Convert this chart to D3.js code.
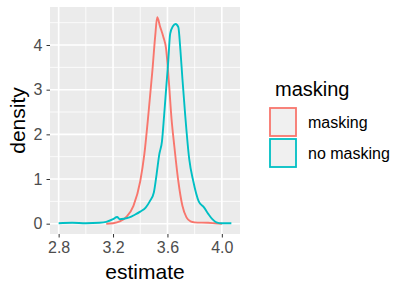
<!DOCTYPE html>
<html>
<head>
<meta charset="utf-8">
<script src="https://cdn.jsdelivr.net/npm/d3@7"></script>
<style>
  body { margin: 0; background: white; }
  svg text { font-family: "Liberation Sans", Arial, Helvetica, sans-serif; }
</style>
</head>
<body>
<div id="chart"></div>
<script>
// density estimates
const groups = ["masking", "no masking"];
const groupColors = ["#F8766D", "#00BFC4"];

const maskingX = [3.15, 3.20, 3.25, 3.30, 3.35, 3.40, 3.43, 3.46, 3.49, 3.51, 3.525, 3.545, 3.57, 3.59, 3.61, 3.63, 3.65, 3.68, 3.71, 3.74, 3.77, 3.80, 3.90, 3.95, 4.00];
const maskingY = [0.00, 0.01, 0.05, 0.16, 0.40, 0.95, 1.55, 2.45, 3.45, 4.20, 4.62, 4.42, 4.18, 3.92, 3.20, 2.35, 1.75, 0.95, 0.40, 0.14, 0.05, 0.03, 0.02, 0.01, 0.00];

const noMaskingX = [2.80, 2.90, 3.00, 3.10, 3.15, 3.20, 3.23, 3.25, 3.28, 3.32, 3.36, 3.40, 3.44, 3.47, 3.50, 3.52, 3.54, 3.56, 3.575, 3.59, 3.605, 3.62, 3.64, 3.66, 3.68, 3.695, 3.71, 3.73, 3.76, 3.79, 3.83, 3.87, 3.90, 3.93, 3.96, 4.00, 4.07];
const noMaskingY = [0.01, 0.02, 0.01, 0.02, 0.04, 0.10, 0.15, 0.10, 0.11, 0.14, 0.20, 0.27, 0.36, 0.50, 0.70, 1.10, 1.55, 1.85, 2.40, 3.00, 3.60, 4.25, 4.42, 4.47, 4.40, 3.90, 3.25, 2.45, 1.45, 0.95, 0.50, 0.36, 0.22, 0.10, 0.03, 0.01, 0.01];

const xMajor = [2.8, 3.2, 3.6, 4.0];
const xMinor = [3.0, 3.4, 3.8];
const yMajor = [0, 1, 2, 3, 4];
const yMinor = [0.5, 1.5, 2.5, 3.5, 4.5];

function renderDensity () {
    const wSvg = 400;
    const hSvg = 290;
    const panel = { left: 50, right: 240, top: 7, bottom: 234 };

    let series = [
        { name: groups[0], color: groupColors[0], points: maskingX.map((x, i) => ({ x: x, y: maskingY[i] })) },
        { name: groups[1], color: groupColors[1], points: noMaskingX.map((x, i) => ({ x: x, y: noMaskingY[i] })) }
    ];

    // ggplot style 5% expansion
    let allX = maskingX.concat(noMaskingX);
    let allY = maskingY.concat(noMaskingY);
    let xMin = d3.min(allX), xMax = d3.max(allX);
    let yMax = d3.max(allY);
    let xPad = (xMax - xMin) * 0.05;
    let yPad = yMax * 0.05;

    let xScale = d3.scaleLinear([xMin - xPad, xMax + xPad], [panel.left, panel.right]);
    let yScale = d3.scaleLinear([-yPad, yMax + yPad], [panel.bottom, panel.top]);

    let svg = d3.select("#chart")
        .append("svg")
        .attr("width", wSvg)
        .attr("height", hSvg);

    svg.append("rect")
        .attr("x", panel.left)
        .attr("y", panel.top)
        .attr("width", panel.right - panel.left)
        .attr("height", panel.bottom - panel.top)
        .attr("fill", "#EBEBEB");

    let grid = svg.append("g");
    grid.selectAll(".xminor")
        .data(xMinor)
        .enter()
        .append("line")
        .attr("x1", d => xScale(d)).attr("x2", d => xScale(d))
        .attr("y1", panel.top).attr("y2", panel.bottom)
        .attr("stroke", "white").attr("stroke-width", 0.8);
    grid.selectAll(".yminor")
        .data(yMinor)
        .enter()
        .append("line")
        .attr("y1", d => yScale(d)).attr("y2", d => yScale(d))
        .attr("x1", panel.left).attr("x2", panel.right)
        .attr("stroke", "white").attr("stroke-width", 0.8);
    grid.selectAll(".xmajor")
        .data(xMajor)
        .enter()
        .append("line")
        .attr("x1", d => xScale(d)).attr("x2", d => xScale(d))
        .attr("y1", panel.top).attr("y2", panel.bottom)
        .attr("stroke", "white").attr("stroke-width", 1.6);
    grid.selectAll(".ymajor")
        .data(yMajor)
        .enter()
        .append("line")
        .attr("y1", d => yScale(d)).attr("y2", d => yScale(d))
        .attr("x1", panel.left).attr("x2", panel.right)
        .attr("stroke", "white").attr("stroke-width", 1.6);

    let line = d3.line()
        .x(d => xScale(d.x))
        .y(d => yScale(d.y))
        .curve(d3.curveMonotoneX);

    svg.append("g")
        .selectAll("path")
        .data(series)
        .enter()
        .append("path")
        .attr("d", d => line(d.points))
        .attr("fill", "none")
        .attr("stroke", d => d.color)
        .attr("stroke-width", 1.9)
        .attr("stroke-linejoin", "round");

    let xAxis = d3.axisBottom(xScale)
        .tickValues(xMajor)
        .tickFormat(d3.format(".1f"))
        .tickSize(3.5)
        .tickPadding(4);
    let gx = svg.append("g")
        .attr("transform", `translate(0, ${panel.bottom})`)
        .call(xAxis);
    gx.selectAll("text")
        .attr("fill", "#4D4D4D")
        .style("font-size", "16px");

    let yAxis = d3.axisLeft(yScale)
        .tickValues(yMajor)
        .tickFormat(d3.format("d"))
        .tickSize(3.5)
        .tickPadding(4);
    let gy = svg.append("g")
        .attr("transform", `translate(${panel.left}, 0)`)
        .call(yAxis);
    gy.selectAll("text")
        .attr("fill", "#4D4D4D")
        .style("font-size", "16px");

    svg.selectAll(".domain").remove();
    svg.selectAll(".tick line").attr("stroke", "#333333").attr("stroke-width", 1);

    svg.append("text")
        .attr("x", (panel.left + panel.right) / 2)
        .attr("y", 279)
        .attr("text-anchor", "middle")
        .attr("fill", "black")
        .style("font-size", "21px")
        .text("estimate");

    svg.append("text")
        .attr("transform", `translate(25, ${(panel.top + panel.bottom) / 2}) rotate(-90)`)
        .attr("text-anchor", "middle")
        .attr("fill", "black")
        .style("font-size", "21px")
        .text("density");

    // legend
    let legend = svg.append("g");
    legend.append("text")
        .attr("x", 275)
        .attr("y", 96)
        .attr("fill", "black")
        .style("font-size", "20px")
        .text("masking");

    let keyY = d3.scaleBand(groups, [107, 169]);
    let keys = legend.selectAll(".key")
        .data(series)
        .enter()
        .append("g");
    keys.append("rect")
        .attr("x", 270)
        .attr("y", d => keyY(d.name) + 1)
        .attr("width", 26)
        .attr("height", keyY.bandwidth() - 3)
        .attr("fill", "#F0F0F0")
        .attr("stroke", d => d.color)
        .attr("stroke-width", 1.8);
    keys.append("text")
        .attr("x", 308)
        .attr("y", d => keyY(d.name) + keyY.bandwidth() / 2)
        .attr("dy", "0.35em")
        .attr("fill", "black")
        .style("font-size", "16px")
        .text(d => d.name);
}

renderDensity();
</script>
</body>
</html>
